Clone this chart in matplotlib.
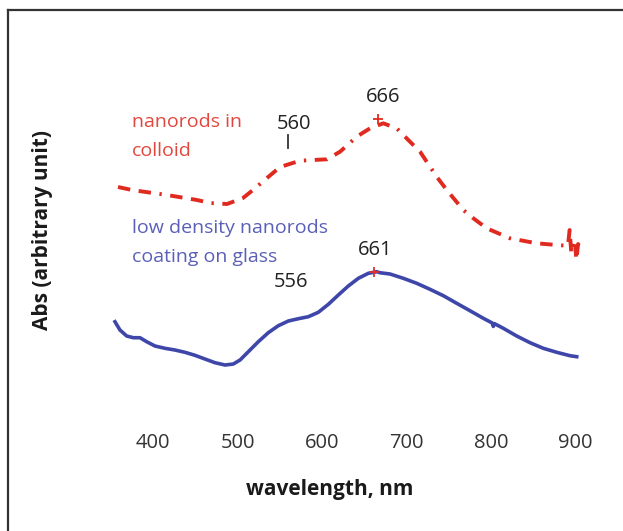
import matplotlib.pyplot as plt
from matplotlib.lines import Line2D

plt.rcParams['font.family'] = ['Open Sans', 'DejaVu Sans']

# absorbance spectra, arbitrary units
colloid_wl = [358.6, 375.1, 416.6, 452.1, 467.5, 487.6, 506.5, 518.3, 534.9, 550.3,
              574.0, 589.3, 605.9, 621.3, 641.1, 648.5, 656.8, 672.5, 688.4, 704.1,
              716.0, 727.8, 735.7, 747.6, 767.2, 779.1, 794.9, 822.5, 854.1, 877.8,
              888, 891, 893, 895, 897, 899, 901, 903, 905]
colloid_abs = [1.165, 1.15, 1.125, 1.10, 1.085, 1.08, 1.11, 1.15, 1.21, 1.265,
               1.2965, 1.30, 1.3035, 1.3415, 1.4165, 1.4365, 1.4585, 1.4835, 1.4585, 1.3915,
               1.3415, 1.2665, 1.2165, 1.15, 1.05, 1.0085, 0.9585, 0.9085, 0.8835, 0.875,
               0.872, 0.87, 0.95, 0.835, 0.88, 0.90, 0.80, 0.88, 0.865]

glass_wl = [355.0, 360.9, 368.9, 376.7, 384.6, 392.5, 402.4, 414.2, 426.0, 437.9,
            449.7, 461.5, 473.4, 485.2, 495.0, 503.0, 512.8, 524.6, 536.4, 548.3,
            560.1, 572.0, 583.8, 595.6, 607.5, 619.3, 631.1, 643.0, 654.8, 664.7,
            668.6, 680.5, 696.2, 712.1, 727.8, 743.6, 759.4, 775.1, 790.9, 801.5,
            802.7, 804.0, 814.6, 830.4, 846.2, 861.9, 877.8, 893.5, 901.4]
glass_abs = [0.4915, 0.45, 0.42, 0.4115, 0.4115, 0.3915, 0.37, 0.3585, 0.35, 0.3385,
             0.3235, 0.305, 0.2865, 0.275, 0.28, 0.30, 0.3415, 0.3915, 0.4365, 0.4715,
             0.495, 0.5065, 0.5165, 0.5385, 0.5785, 0.625, 0.67, 0.7085, 0.7335, 0.7415,
             0.7365, 0.73, 0.7085, 0.6835, 0.6535, 0.6215, 0.5835, 0.5465, 0.5085, 0.485,
             0.468, 0.482, 0.4585, 0.42, 0.3865, 0.3585, 0.3385, 0.3215, 0.3165]

colloid_peak = (666, 1.505)
colloid_shoulder = 560
glass_peak = (661, 0.74)
glass_shoulder = 556
xticks = [400, 500, 600, 700, 800, 900]

red = '#e02a20'
blue = '#3e47a9'

fig = plt.figure(figsize=(6.23, 5.31), dpi=100)
ax = fig.add_axes([0.1642, 0.209, 0.8003, 0.678])

ax.plot(colloid_wl, colloid_abs, color=red, lw=2.8,
        dashes=(3.2, 2.2, 3.2, 2.2, 0.6, 2.2), solid_capstyle='butt')
ax.plot(glass_wl, glass_abs, color=blue, lw=2.6, solid_joinstyle='round')

ax.plot(*colloid_peak, marker='+', color=red, ms=7, mew=1.3)
ax.plot(*glass_peak, marker='+', color='#e03030', ms=7, mew=1.3)
ax.plot([colloid_shoulder, colloid_shoulder], [1.36, 1.425], color='#333333', lw=1.3)

txt = '#222222'
ax.text(672, 1.615, str(colloid_peak[0]), ha='center', va='center', fontsize=14.5, color=txt)
ax.text(567, 1.48, str(colloid_shoulder), ha='center', va='center', fontsize=14.5, color=txt)
ax.text(663, 0.85, str(glass_peak[0]), ha='center', va='center', fontsize=14.5, color=txt)
ax.text(563, 0.69, str(glass_shoulder), ha='center', va='center', fontsize=14.5, color=txt)

ax.text(375, 1.4175, 'nanorods in\ncolloid', ha='left', va='center',
        fontsize=14, color='#e2473d', linespacing=1.72)
ax.text(375, 0.8875, 'low density nanorods\ncoating on glass', ha='left', va='center',
        fontsize=14, color='#5a5fb8', linespacing=1.72)

ax.set_xlim(340, 930)
ax.set_ylim(0, 1.8)
ax.set_xticks(xticks)
ax.set_yticks([])
ax.tick_params(axis='x', length=0, pad=9, labelsize=14.5, labelcolor='#333333')
for s in ax.spines.values():
    s.set_visible(False)

ax.set_xlabel('wavelength, nm', fontsize=15, fontweight='bold', color='#1a1a1a', va='center')
ax.xaxis.set_label_coords(0.4567, -0.1917)
ax.set_ylabel('Abs (arbitrary unit)', fontsize=15, fontweight='bold', color='#1a1a1a', va='center')
ax.yaxis.set_label_coords(-0.119, 0.528)

# frame lines along the top and left edges
fig.add_artist(Line2D([7.5 / 623, 7.5 / 623], [0, 1 - 10 / 531], color='#333333', lw=1.6,
                      transform=fig.transFigure))
fig.add_artist(Line2D([7.5 / 623, 1], [1 - 10 / 531, 1 - 10 / 531], color='#333333', lw=1.6,
                      transform=fig.transFigure))

fig.savefig('out.png', dpi=100, facecolor='white')
